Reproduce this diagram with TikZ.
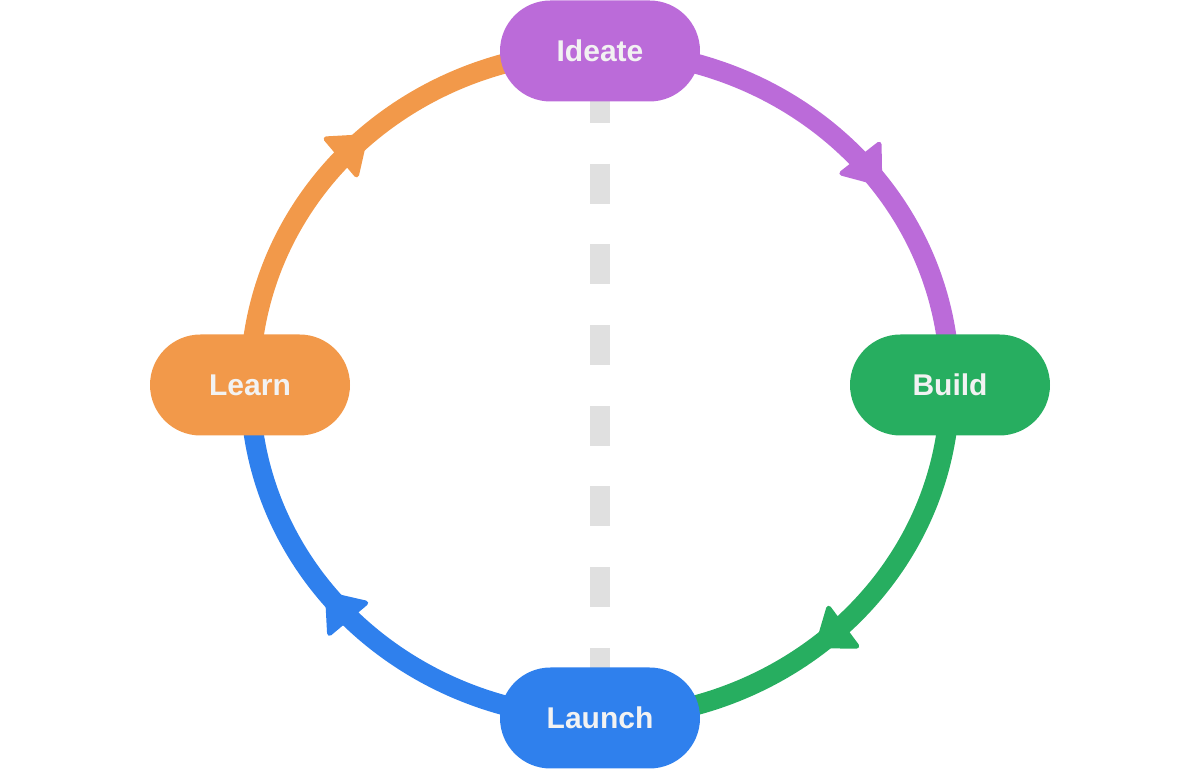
\documentclass[tikz,border=0pt]{standalone}
\usepackage{fontspec}
\setmainfont{Liberation Sans}
\usetikzlibrary{arrows.meta,decorations.markings,backgrounds,positioning}
\definecolor{ideatepurple}{HTML}{BB6BD9}
\definecolor{buildgreen}{HTML}{27AE60}
\definecolor{launchblue}{HTML}{2F80ED}
\definecolor{learnorange}{HTML}{F2994A}
\definecolor{dividergray}{HTML}{E0E0E0}
\definecolor{labelwhite}{HTML}{F2F2F2}

\begin{document}
\begin{tikzpicture}[x=1pt,y=1pt]
  \tikzstyle{stage}=[rectangle, rounded corners=50.5pt, minimum width=200pt, minimum height=101pt, inner sep=0pt, text=labelwhite, font=\fontsize{30}{35}\selectfont\bfseries]
  \tikzstyle{loop}=[line width=20pt]
  \tikzstyle{divider}=[line width=20pt, dividergray, dash pattern=on 40pt off 40.7pt, dash phase=48.7pt]
  \tikzset{flow/.style={postaction={decorate}, decoration={markings, mark=at position #1 with {\arrow{Triangle[width=56pt, length=38pt, round, line width=5pt]}}}}}

  \useasboundingbox (0,0) rectangle (1200,770);

  % Stages
  \node[stage, fill=ideatepurple] (ideate) at (600,719) {Ideate};
  \node[stage, fill=buildgreen] (build) at (950,385) {Build};
  \node[stage, fill=launchblue] (launch) at (600,52) {Launch};
  \node[stage, fill=learnorange] (learn) at (250,385) {Learn};

  % Loop and divider
  \begin{scope}[on background layer]
    \draw[divider] (ideate.center) -- (launch.center);
    \draw[loop, color=ideatepurple, flow=0.6] (ideate.center) to[out=0, in=90] (build.center);
    \draw[loop, color=buildgreen, flow=0.57] (build.center) to[out=-90, in=0] (launch.center);
    \draw[loop, color=launchblue, flow=0.58] (launch.center) to[out=180, in=-90] (learn.center);
    \draw[loop, color=learnorange, flow=0.53] (learn.center) to[out=90, in=180] (ideate.center);
  \end{scope}
\end{tikzpicture}
\end{document}
